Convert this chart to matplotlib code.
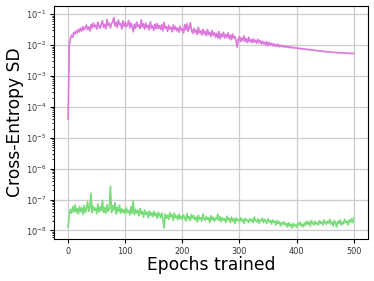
import numpy as np
import matplotlib
matplotlib.use("Agg")
import matplotlib.pyplot as plt

# epochs sampled every 2 epochs (0..500)
epochs = np.arange(0, 501, 2)

# cross-entropy SD, magenta run (units of 1e-2)
sd_magenta = [
    0.004, 1.0, 1.6, 2.1, 1.8, 2.6, 2.3, 2.9, 2.5, 3.3,
    2.7, 3.5, 2.9, 4.0, 3.1, 3.6, 4.5, 3.2, 3.9, 2.9,
    4.6, 3.6, 5.2, 3.9, 4.4, 3.3, 5.6, 4.1, 3.5, 4.8,
    6.2, 3.8, 4.7, 3.4, 6.8, 4.3, 5.1, 3.6, 4.9, 5.7,
    7.8, 4.2, 5.5, 3.7, 6.5, 4.6, 5.0, 3.3, 6.1, 4.0,
    5.4, 3.9, 4.6, 6.3, 3.6, 5.2, 4.1, 2.7, 4.8, 3.5,
    5.6, 4.0, 4.5, 3.4, 6.6, 3.8, 4.9, 3.3, 5.1, 3.7,
    4.4, 3.1, 5.7, 3.6, 4.2, 3.0, 4.8, 3.4, 5.0, 3.5,
    4.3, 3.2, 4.7, 2.9, 5.5, 3.5, 3.9, 2.8, 4.4, 3.3,
    3.8, 2.7, 4.5, 3.2, 4.0, 2.9, 3.6, 2.6, 4.1, 3.0,
    3.4, 2.5, 4.6, 3.1, 5.0, 2.8, 3.7, 5.3, 3.0, 2.4,
    3.5, 2.6, 3.1, 2.2, 3.8, 2.5, 2.9, 2.1, 3.3, 2.3,
    2.8, 2.0, 3.2, 2.2, 2.6, 1.9, 3.0, 2.1, 2.5, 1.8,
    2.4, 1.7, 2.8, 1.6, 2.3, 1.9, 2.6, 1.7, 2.2, 1.8,
    2.5, 1.6, 2.1, 1.5, 2.3, 1.7, 1.9, 1.4, 0.85, 1.6,
    1.9, 1.3, 1.7, 1.4, 2.0, 1.3, 1.6, 1.2, 1.8, 1.3,
    1.5, 1.2, 1.6, 1.25, 1.45, 1.15, 1.55, 1.2, 1.4, 1.1,
    1.35, 1.1, 1.25, 1.0, 1.3, 0.95, 1.2, 1.05, 1.15, 0.95,
    1.1, 0.92, 1.05, 0.9, 1.08, 0.88, 1.0, 0.9, 0.96, 0.86,
    0.95, 0.85, 0.92, 0.83, 0.9, 0.82, 0.87, 0.8, 0.85, 0.79,
    0.82, 0.78, 0.8, 0.76, 0.79, 0.74, 0.77, 0.73, 0.75, 0.72,
    0.73, 0.7, 0.72, 0.69, 0.7, 0.67, 0.69, 0.66, 0.67, 0.65,
    0.66, 0.64, 0.65, 0.62, 0.63, 0.61, 0.62, 0.6, 0.61, 0.6,
    0.6, 0.59, 0.59, 0.58, 0.58, 0.57, 0.57, 0.56, 0.57, 0.56,
    0.56, 0.55, 0.56, 0.55, 0.55, 0.54, 0.55, 0.54, 0.54, 0.54,
    0.54,
]

# cross-entropy SD, green run (units of 1e-8)
sd_green = [
    1.3, 3.5, 4.8, 3.6, 5.9, 4.0, 6.8, 3.9, 5.2, 3.4,
    6.0, 4.1, 5.4, 3.3, 6.4, 3.8, 5.0, 8.5, 4.2, 5.6,
    16.0, 3.7, 6.1, 4.5, 5.3, 3.5, 7.2, 4.0, 5.8, 4.4,
    9.5, 3.9, 5.5, 3.6, 6.9, 4.2, 5.1, 27.0, 3.8, 6.3,
    4.6, 8.0, 3.4, 5.7, 4.1, 6.6, 3.6, 5.0, 3.9, 4.7,
    3.5, 5.4, 3.8, 4.4, 3.2, 5.9, 3.6, 9.0, 3.3, 4.8,
    3.7, 4.5, 3.0, 5.2, 3.4, 4.1, 2.7, 4.6, 3.3, 3.9,
    2.6, 4.3, 3.1, 3.7, 2.8, 4.2, 3.0, 3.6, 2.5, 3.9,
    3.2, 2.6, 3.7, 2.2, 1.2, 3.4, 2.5, 3.1, 2.3, 3.8,
    2.7, 3.3, 2.1, 3.6, 2.6, 3.0, 2.2, 3.4, 2.4, 2.9,
    2.3, 3.2, 2.6, 2.0, 3.5, 2.4, 2.8, 2.1, 3.3, 2.5,
    3.0, 2.2, 2.7, 1.9, 3.1, 2.3, 2.6, 2.0, 3.4, 2.4,
    2.1, 2.9, 2.3, 2.6, 1.8, 3.0, 2.2, 2.7, 2.0, 2.5,
    2.3, 3.4, 2.1, 2.8, 1.9, 2.6, 2.2, 2.4, 1.8, 2.9,
    2.2, 2.5, 1.8, 2.7, 2.0, 2.4, 1.7, 2.6, 2.1, 2.3,
    1.9, 2.6, 2.0, 2.3, 1.7, 2.5, 2.1, 2.2, 1.8, 2.4,
    2.0, 2.3, 1.8, 2.7, 2.1, 1.9, 2.4, 1.7, 2.2, 2.0,
    2.5, 1.8, 2.3, 2.0, 1.7, 2.4, 1.9, 2.1, 1.6, 2.2,
    1.8, 2.0, 1.5, 2.1, 1.7, 1.9, 1.4, 1.8, 1.6, 1.9,
    1.5, 1.7, 1.3, 1.8, 1.4, 1.6, 1.2, 1.7, 1.4, 1.5,
    1.3, 1.7, 1.5, 1.9, 1.4, 1.6, 1.3, 1.8, 1.5, 2.0,
    1.6, 1.9, 1.4, 2.1, 1.7, 1.5, 2.0, 1.6, 1.8, 1.5,
    2.1, 1.7, 1.9, 1.5, 2.2, 1.8, 1.6, 2.0, 1.7, 2.3,
    1.6, 1.9, 1.4, 2.1, 1.8, 1.3, 2.0, 1.7, 2.2, 1.5,
    1.9, 1.6, 2.3, 1.8, 2.0, 1.5, 2.2, 1.9, 2.4, 1.8,
    2.5,
]

fig = plt.figure(figsize=(3.74, 2.81), dpi=100)
ax = fig.add_axes([0.144, 0.149, 0.840, 0.830])

ax.plot(epochs, np.array(sd_magenta) * 1e-2, color="#dc78dc", lw=1.2)
ax.plot(epochs, np.array(sd_green) * 1e-8, color="#78dc78", lw=1.2)

ax.set_yscale("log")
ax.set_xlim(-25, 525)
ax.set_ylim(10 ** -8.28, 10 ** -0.73)
ax.set_xticks([0, 100, 200, 300, 400, 500])
ax.grid(True, color="#cccccc", lw=0.9)
ax.set_axisbelow(True)
ax.tick_params(labelsize=5.9, labelcolor="#333333", length=3, width=0.8, pad=2.5)
ax.tick_params(which="minor", length=1.8, width=0.6)

ax.set_xlabel("Epochs trained", fontsize=12.3, labelpad=0)
ax.set_ylabel("Cross-Entropy SD", fontsize=12.3, labelpad=1)

fig.savefig("out.png", dpi=100)
